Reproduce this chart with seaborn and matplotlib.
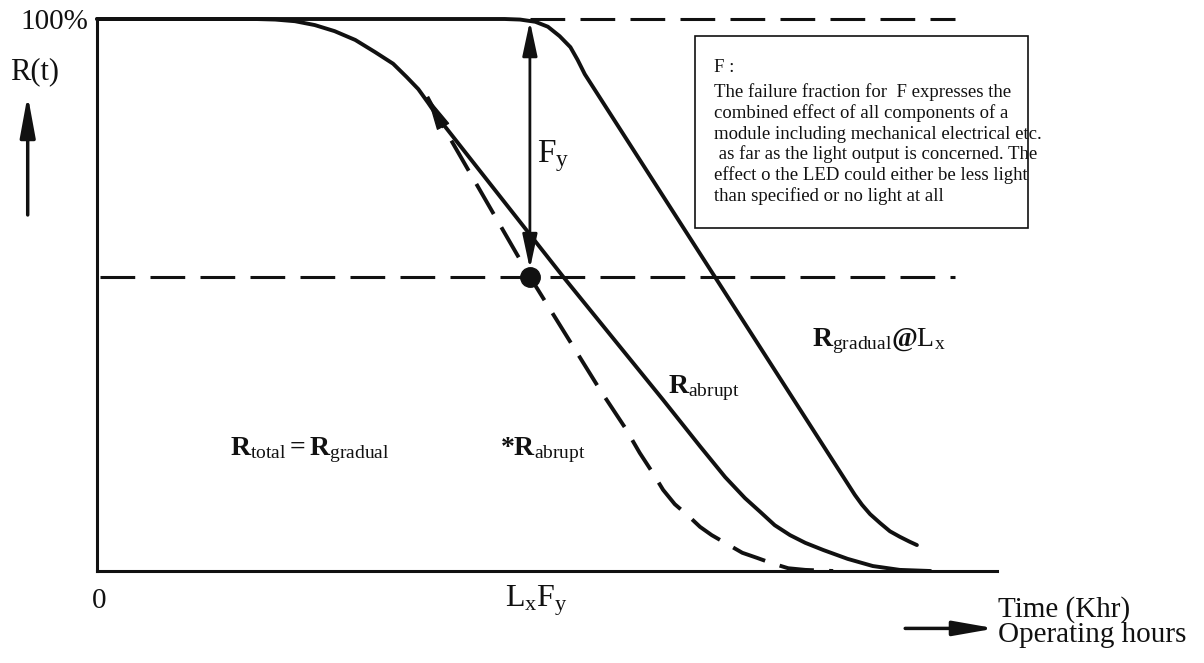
import matplotlib
matplotlib.use('Agg')
import matplotlib.pyplot as plt
import seaborn as sns
from matplotlib.patches import Rectangle

# curves: time on a 0-100 scale (Khr), R(t) in %
total_t = [0, 17.6, 19.8, 22.0, 24.2, 26.4, 28.7, 30.9, 32.9, 34.4, 35.7, 36.8, 38.1, 51.8, 62.9,
           67.0, 69.8, 72.0, 73.7, 75.3, 77.0, 78.7, 80.7, 83.4, 86.2, 89.2, 92.6]
total_r = [100, 100, 99.9, 99.6, 98.9, 97.8, 96.2, 94.0, 91.9, 89.5, 87.3, 84.8, 81.7, 53.3, 31.0,
           22.6, 17.0, 13.2, 10.7, 8.3, 6.5, 5.1, 3.8, 2.2, 0.9, 0.2, 0]

abrupt_t = [36.7, 38.3, 48.1, 55.9, 58.7, 60.3, 61.7, 62.9, 64.2, 65.7, 67.0, 68.3, 70.0, 71.7,
            73.3, 75.0, 76.8, 78.7, 81.8]
abrupt_r = [85.9, 81.0, 53.3, 32.8, 25.9, 21.4, 17.9, 14.7, 12.1, 10.0, 8.0, 6.5, 4.9, 3.3,
            2.4, 1.4, 0.5, 0.2, 0]

gradual_t = [0, 45.3, 47.0, 48.7, 50.1, 51.4, 52.6, 53.4, 54.2, 84.2, 85.0, 85.9, 87.0, 88.1,
             89.2, 90.3, 91.1]
gradual_r = [100, 100, 99.9, 99.5, 98.6, 96.9, 94.9, 92.6, 90.0, 13.8, 12.0, 10.3, 8.7, 7.2,
             6.2, 5.3, 4.7]

lxfy_t = 48.1
fy_level = 53.2
dash_end = 95.3

box_title = 'F :'
box_lines = ['The failure fraction for  F expresses the',
             'combined effect of all components of a',
             'module including mechanical electrical etc.',
             ' as far as the light output is concerned. The',
             'effect o the LED could either be less light',
             'than specified or no light at all']

sns.set_theme(style='white')
plt.rcParams['font.family'] = ['Liberation Serif', 'DejaVu Serif']
plt.rcParams['mathtext.fontset'] = 'custom'
plt.rcParams['mathtext.rm'] = 'Liberation Serif'
plt.rcParams['mathtext.bf'] = 'Liberation Serif:bold'
plt.rcParams['mathtext.it'] = 'Liberation Serif:italic'
plt.rcParams['lines.scale_dashes'] = False

ink = '#111111'
dash = (0, (25, 11))

fig = plt.figure(figsize=(12.04, 6.63), dpi=100)
ax = fig.add_axes([97 / 1204, 92 / 663, 900 / 1204, 552 / 663])
ax.set_xlim(0, 100)
ax.set_ylim(0, 100)
ax.set_xticks([])
ax.set_yticks([])
sns.despine(ax=ax)
for s in ['left', 'bottom']:
    ax.spines[s].set_linewidth(2.2)
    ax.spines[s].set_color(ink)

# reference lines
ax.plot([lxfy_t, dash_end], [100, 100], color=ink, lw=2.2, linestyle=dash, clip_on=False)
ax.plot([0.3, dash_end], [fy_level, fy_level], color=ink, lw=2.2, linestyle=dash)

# curves
sns.lineplot(x=gradual_t, y=gradual_r, ax=ax, color=ink, lw=2.8, estimator=None, sort=False, clip_on=False)
sns.lineplot(x=total_t, y=total_r, ax=ax, color=ink, lw=2.8, estimator=None, sort=False, clip_on=False)
sns.lineplot(x=abrupt_t, y=abrupt_r, ax=ax, color=ink, lw=2.8, estimator=None, sort=False, linestyle=dash)
ax.annotate('', xy=(abrupt_t[0], abrupt_r[0]), xytext=(abrupt_t[1], abrupt_r[1]),
            arrowprops=dict(arrowstyle='-|>,head_length=1.2,head_width=0.25', color=ink, lw=1,
                            shrinkA=0, shrinkB=0, mutation_scale=18))

# F_y arrow and the L_xF_y point
ax.annotate('', xy=(lxfy_t, 100), xytext=(lxfy_t, fy_level), annotation_clip=False,
            arrowprops=dict(arrowstyle='<|-|>,head_length=1.4,head_width=0.3', color=ink, lw=2,
                            shrinkA=6, shrinkB=1.5, mutation_scale=15))
ax.plot(lxfy_t, fy_level, 'o', color=ink, ms=14, clip_on=False)
ax.text(48.9, 78.4, r'$\mathrm{F}_{\mathrm{y}}$', ha='left', va='top', fontsize=24, color=ink)

# axis labels and arrows
ax.text(-1.0, 99.4, '100%', ha='right', va='center', fontsize=21, color=ink)
ax.text(-6.9, 90.5, 'R(t)', ha='center', va='center', fontsize=22, color=ink)
ax.annotate('', xy=(-7.7, 86.2), xytext=(-7.7, 64.5), annotation_clip=False,
            arrowprops=dict(arrowstyle='-|>,head_length=1.25,head_width=0.23', color=ink, lw=2.5,
                            shrinkA=0, shrinkB=0, mutation_scale=20))
ax.text(0.2, -3.0, '0', ha='center', va='top', fontsize=21, color=ink)
ax.text(45.3, -2.2, r'$\mathrm{L}_{\mathrm{x}}\mathrm{F}_{\mathrm{y}}$', ha='left', va='top', fontsize=23, color=ink)
ax.annotate('', xy=(99.8, -10.4), xytext=(89.8, -10.4), annotation_clip=False,
            arrowprops=dict(arrowstyle='-|>,head_length=1.25,head_width=0.22', color=ink, lw=2.5,
                            shrinkA=0, shrinkB=0, mutation_scale=20))
ax.text(100.1, -8.3, 'Time (Khr)', ha='left', va='baseline', fontsize=21, color=ink)
ax.text(100.1, -12.9, 'Operating hours', ha='left', va='baseline', fontsize=21, color=ink)

# curve labels
ax.text(79.4, 40.8, r'$\mathbf{R}_{\mathrm{gradual}}$@$\mathrm{L}_{\mathrm{x}}$', ha='left', va='baseline',
        fontsize=20, fontweight='bold', color=ink)
ax.text(63.4, 32.2, r'$\mathbf{R}_{\mathrm{abrupt}}$', ha='left', va='baseline', fontsize=20, color=ink)
ax.text(14.8, 21.0, r'$\mathbf{R}_{\mathrm{total}}\mathbf{=}\mathbf{R}_{\mathrm{gradual}}$', ha='left',
        va='baseline', fontsize=20, color=ink)
ax.text(44.8, 21.0, r'*$\mathbf{R}_{\mathrm{abrupt}}$', ha='left', va='baseline', fontsize=20,
        fontweight='bold', color=ink)

# explanation box
ax.add_patch(Rectangle((66.4, 62.1), 37.0, 34.8, fill=False, edgecolor=ink, lw=1.2, clip_on=False))
ax.text(68.6, 90.4, box_title, ha='left', va='baseline', fontsize=13.5, color=ink)
for i, line in enumerate(box_lines):
    ax.text(68.6, 85.9 - i * 3.78, line, ha='left', va='baseline', fontsize=13.5, color=ink)

fig.savefig('out.png', dpi=100)
